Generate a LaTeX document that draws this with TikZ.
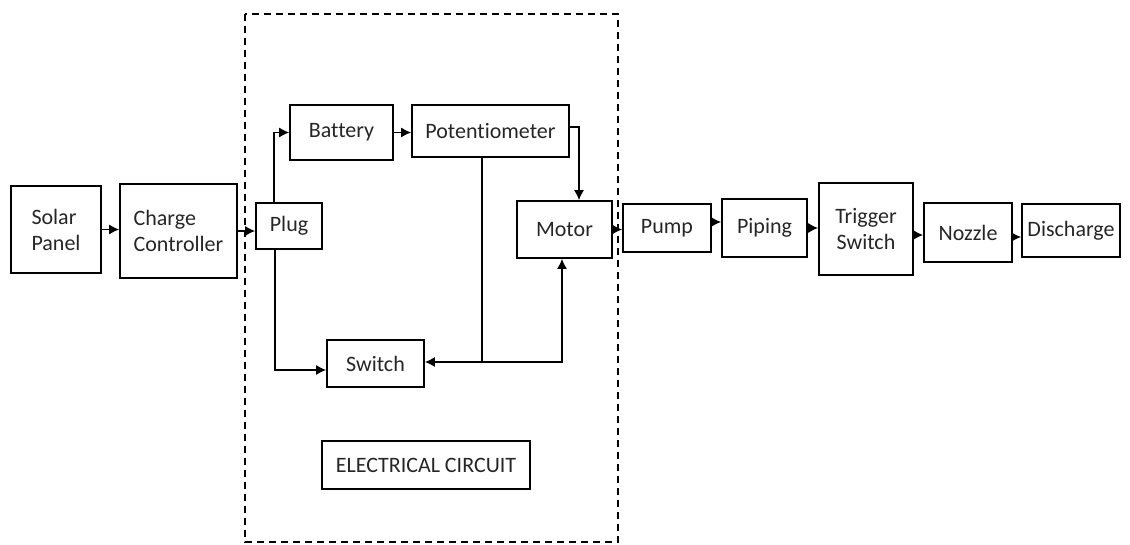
\documentclass[tikz,border=0pt]{standalone}
\usepackage{fontspec}
\setmainfont[Ligatures=NoCommon]{Carlito}
\usetikzlibrary{arrows.meta}

\tikzset{
  blk/.style={draw, line width=1.7pt, inner sep=0pt, align=center,
    font=\fontsize{22}{26}\selectfont, text=black!85},
  flow/.style={line width=1.4pt, -{Latex[length=10pt,width=10pt]}},
  wire/.style={line width=1.4pt}
}

\begin{document}
\begin{tikzpicture}[x=1pt,y=-1pt]
			\useasboundingbox (0,0) rectangle (1130,544);
			% electrical circuit boundary
			\draw[line width=1.7pt, dash pattern=on 7pt off 5pt] (245,14) rectangle (618,542);
			\node[blk, align=left, minimum width=90pt, minimum height=87pt] (solar) at (56,229.5) {Solar\\Panel};
			\node[blk, align=left, minimum width=117pt, minimum height=94pt] (charge) at (178.5,231) {Charge\\Controller};
			\node[blk, minimum width=66pt, minimum height=46pt] (plug) at (289,226) {Plug};
			\node[blk, minimum width=103pt, minimum height=55pt] (battery) at (341.5,132.5) {Battery};
			\node[blk, minimum width=157pt, minimum height=52pt] (pot) at (490.5,131) {Potentiometer};
			\node[blk, minimum width=95pt, minimum height=57pt] (motor) at (564.5,229.5) {Motor};
			\node[blk, minimum width=97pt, minimum height=47pt] (switch) at (375.5,363.5) {Switch};
			\node[blk, minimum width=208pt, minimum height=48pt] (elec) at (426,465) {ELECTRICAL CIRCUIT};
			\node[blk, minimum width=88pt, minimum height=48pt] (pump) at (667,228) {Pump};
			\node[blk, minimum width=85pt, minimum height=58pt] (piping) at (764.5,228) {Piping};
			\node[blk, minimum width=94pt, minimum height=92pt] (trigger) at (866,229) {Trigger\\Switch};
			\node[blk, minimum width=88pt, minimum height=59pt] (nozzle) at (968,232.5) {Nozzle};
			\node[blk, minimum width=98pt, minimum height=53pt] (discharge) at (1071,230.5) {Discharge};
			\coordinate (j) at (482,362);
			% connectors
			\draw[flow] (solar.east) -- (solar.east -| charge.west);
			\draw[flow] (charge.east) -- (charge.east -| plug.west);
			\draw[flow] ([xshift=-15pt]plug.north) |- (battery.west);
			\draw[flow] ([xshift=-14pt]plug.south) |- ([yshift=-6.5pt]switch.west);
			\draw[flow] (battery.east) -- (battery.east -| pot.west);
			\draw[flow] ([yshift=4pt]pot.east) -| ([xshift=14.5pt]motor.north);
			\draw[wire] ([xshift=-8.5pt]pot.south) -- (j);
			\draw[flow] (j) -- (j -| switch.east);
			\draw[flow] (j) -| ([xshift=-2.5pt]motor.south);
			\draw[flow] (motor.east) -- (motor.east -| pump.west);
			\draw[flow] ([yshift=6pt]pump.east) -- ([yshift=6pt]pump.east -| piping.west);
			\draw[flow] (piping.east) -- (piping.east -| trigger.west);
			\draw[flow] ([yshift=-6pt]trigger.east) -- ([yshift=-6pt]trigger.east -| nozzle.west);
			\draw[flow] ([yshift=-4.5pt]nozzle.east) -- ([yshift=-4.5pt]nozzle.east -| discharge.west);
			\end{tikzpicture}
\end{document}
